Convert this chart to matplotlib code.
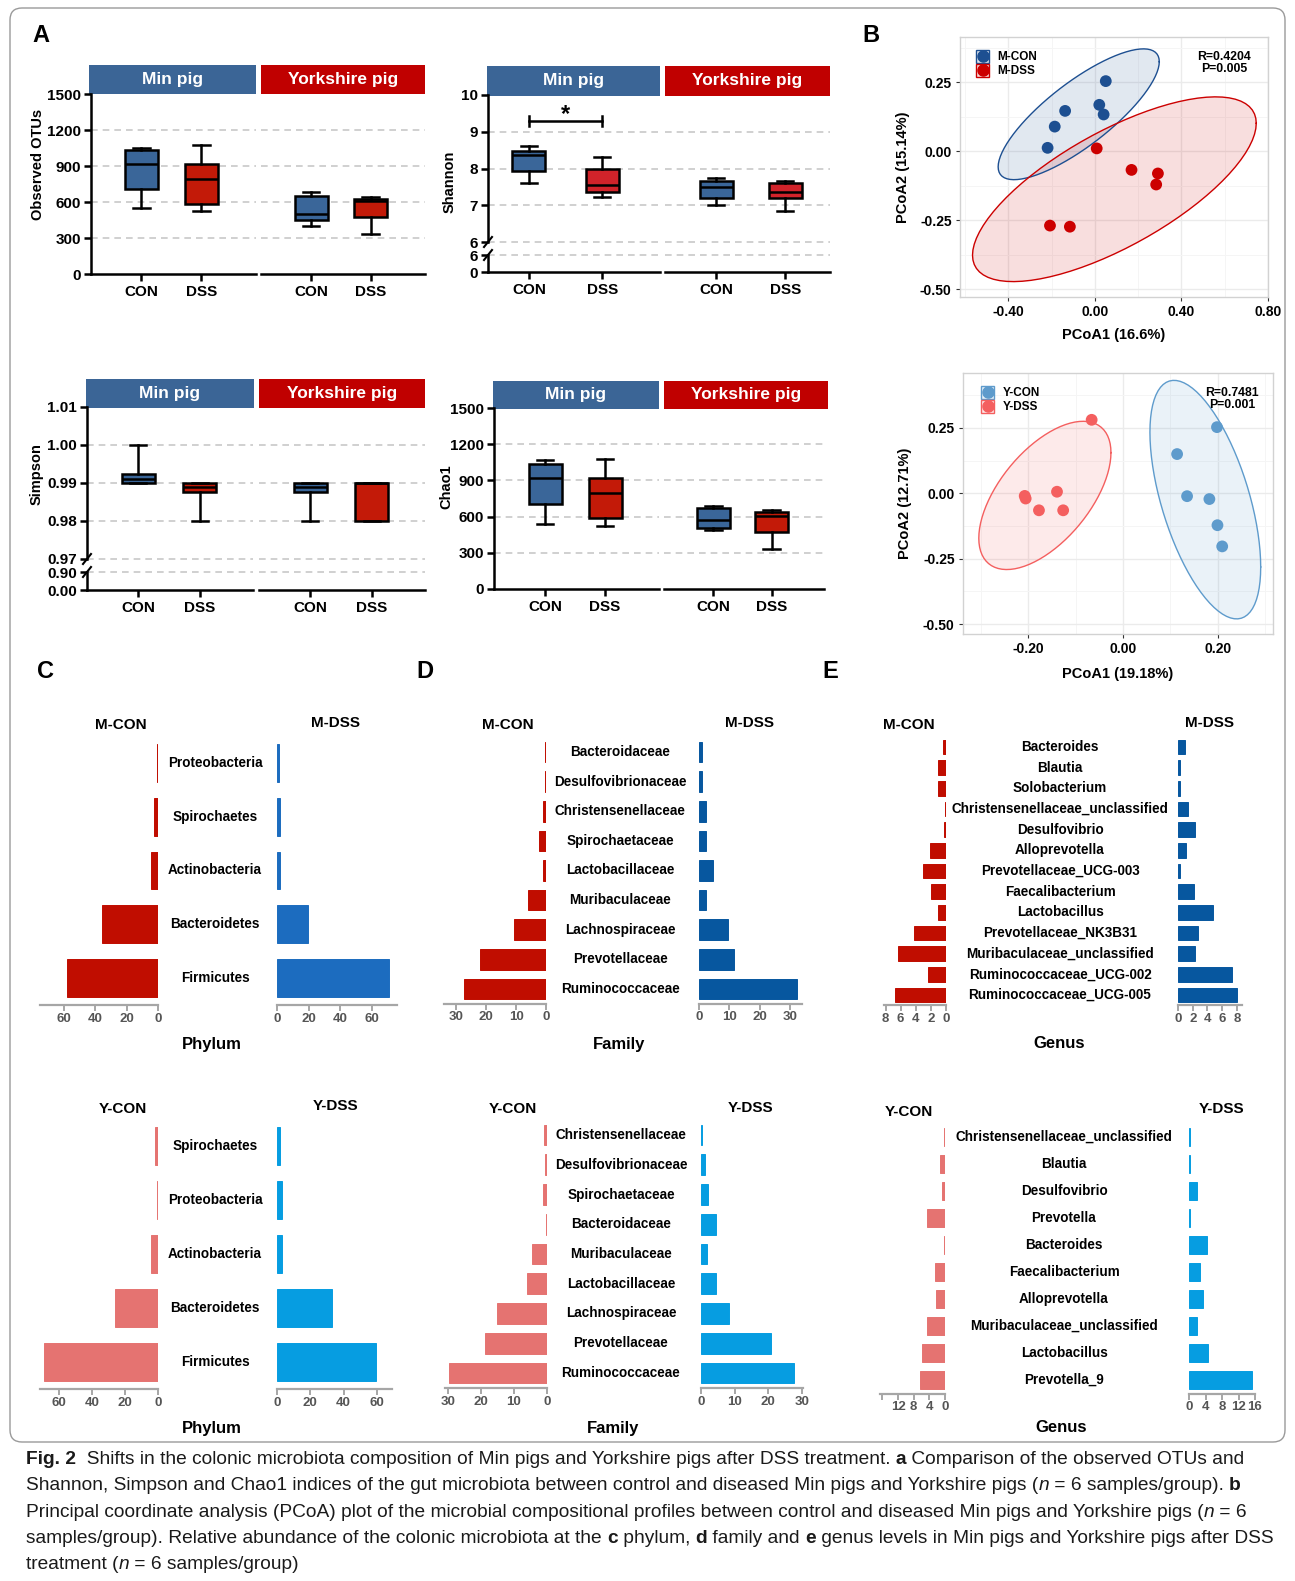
import numpy as np
import matplotlib
matplotlib.use("Agg")
import matplotlib.pyplot as plt
import matplotlib.transforms as mtransforms
from matplotlib.lines import Line2D
from matplotlib.patches import FancyBboxPatch, Polygon, Rectangle
from matplotlib.colors import to_rgba

W, H = 1295, 1581
DPI = 100
plt.rcParams['font.family'] = ['Liberation Sans', 'DejaVu Sans']
plt.rcParams['font.weight'] = 'bold'

# ---------------- alpha diversity (five-number summaries: low, Q1, median, Q3, high) ----------------
groups = ["CON", "DSS"]
facets = ["Min pig", "Yorkshire pig"]
otus_min = [[547, 708, 917, 1033, 1050], [525, 586, 794, 914, 1075]]
otus_york = [[397, 453, 500, 647, 683], [336, 472, 610, 622, 639]]
shannon_min = [[7.61, 7.93, 8.38, 8.47, 8.62], [7.23, 7.36, 7.55, 7.99, 8.32]]
shannon_york = [[7.00, 7.20, 7.49, 7.65, 7.75], [6.85, 7.20, 7.36, 7.61, 7.66]]
simpson_min = [[0.990, 0.990, 0.991, 0.9923, 1.000], [0.980, 0.9876, 0.989, 0.990, 0.990]]
simpson_york = [[0.980, 0.9876, 0.989, 0.990, 0.990], [0.980, 0.980, 0.990, 0.990, 0.990]]
chao1_min = [[540, 703, 919, 1035, 1065], [518, 592, 794, 922, 1079]]
chao1_york = [[493, 506, 570, 670, 686], [329, 470, 609, 634, 656]]
shannon_sig_y = 9.3

# ---------------- PCoA coordinates ----------------
m_con_pc1 = [0.050, 0.020, 0.040, -0.138, -0.186, -0.219]
m_con_pc2 = [0.254, 0.168, 0.133, 0.146, 0.089, 0.012]
m_dss_pc1 = [0.008, 0.169, 0.291, 0.283, -0.208, -0.116]
m_dss_pc2 = [0.010, -0.068, -0.081, -0.121, -0.270, -0.274]
y_con_pc1 = [0.198, 0.114, 0.135, 0.182, 0.199, 0.209]
y_con_pc2 = [0.253, 0.150, -0.011, -0.022, -0.122, -0.203]
y_dss_pc1 = [-0.066, -0.207, -0.205, -0.139, -0.177, -0.126]
y_dss_pc2 = [0.281, -0.010, -0.020, 0.006, -0.065, -0.065]
m_stats = "R=0.4204\nP=0.005"
y_stats = "R=0.7481\nP=0.001"

# ---------------- relative abundance (%) ----------------
phylum_m = ["Proteobacteria", "Spirochaetes", "Actinobacteria", "Bacteroidetes", "Firmicutes"]
phylum_m_con = [0.4, 2.7, 4.7, 35.3, 57.8]
phylum_m_dss = [1.0, 1.7, 1.7, 19.6, 70.9]
family_m = ["Bacteroidaceae", "Desulfovibrionaceae", "Christensenellaceae", "Spirochaetaceae",
            "Lactobacillaceae", "Muribaculaceae", "Lachnospiraceae", "Prevotellaceae", "Ruminococcaceae"]
family_m_con = [0.3, 0.2, 1.1, 2.4, 1.1, 6.1, 10.6, 21.9, 27.2]
family_m_dss = [1.0, 0.9, 2.3, 2.3, 4.6, 2.3, 9.6, 11.4, 32.3]
genus_m = ["Bacteroides", "Blautia", "Solobacterium", "Christensenellaceae_unclassified", "Desulfovibrio",
           "Alloprevotella", "Prevotellaceae_UCG-003", "Faecalibacterium", "Lactobacillus",
           "Prevotellaceae_NK3B31", "Muribaculaceae_unclassified", "Ruminococcaceae_UCG-002",
           "Ruminococcaceae_UCG-005"]
genus_m_con = [0.36, 1.1, 1.1, 0.1, 0.2, 2.1, 3.1, 2.0, 1.1, 4.2, 6.4, 2.4, 6.7]
genus_m_dss = [0.9, 0.3, 0.3, 1.4, 2.3, 1.1, 0.3, 2.2, 4.7, 2.7, 2.3, 7.4, 8.0]
phylum_y = ["Spirochaetes", "Proteobacteria", "Actinobacteria", "Bacteroidetes", "Firmicutes"]
phylum_y_con = [1.8, 0.7, 4.4, 26.3, 69.1]
phylum_y_dss = [1.7, 2.7, 2.7, 32.9, 59.2]
family_y = ["Christensenellaceae", "Desulfovibrionaceae", "Spirochaetaceae", "Bacteroidaceae",
            "Muribaculaceae", "Lactobacillaceae", "Lachnospiraceae", "Prevotellaceae", "Ruminococcaceae"]
family_y_con = [0.8, 0.5, 1.2, 0.3, 4.5, 6.1, 15.2, 18.9, 29.6]
family_y_dss = [0.4, 1.3, 2.1, 4.4, 1.7, 4.4, 8.4, 20.7, 27.5]
genus_y = ["Christensenellaceae_unclassified", "Blautia", "Desulfovibrio", "Prevotella", "Bacteroides",
           "Faecalibacterium", "Alloprevotella", "Muribaculaceae_unclassified", "Lactobacillus", "Prevotella_9"]
genus_y_con = [0.2, 1.4, 0.8, 4.6, 0.2, 2.5, 2.2, 4.6, 6.0, 6.3]
genus_y_dss = [0.3, 0.3, 2.0, 0.3, 4.3, 2.7, 3.3, 2.0, 4.6, 15.3]

# ---------------- caption ----------------
caption_lines = [
    [("Fig. 2", "bold"), ("  Shifts in the colonic microbiota composition of Min pigs and Yorkshire pigs after DSS treatment. ", "normal"),
     ("a", "bold"), (" Comparison of the observed OTUs and", "normal")],
    [("Shannon, Simpson and Chao1 indices of the gut microbiota between control and diseased Min pigs and Yorkshire pigs (", "normal"),
     ("n", "italic"), (" = 6 samples/group). ", "normal"), ("b", "bold")],
    [("Principal coordinate analysis (PCoA) plot of the microbial compositional profiles between control and diseased Min pigs and Yorkshire pigs (", "normal"),
     ("n", "italic"), (" = 6", "normal")],
    [("samples/group). Relative abundance of the colonic microbiota at the ", "normal"), ("c", "bold"), (" phylum, ", "normal"),
     ("d", "bold"), (" family and ", "normal"), ("e", "bold"), (" genus levels in Min pigs and Yorkshire pigs after DSS", "normal")],
    [("treatment (", "normal"), ("n", "italic"), (" = 6 samples/group)", "normal")],
]

# ---------------- styling ----------------
GRID = '#c8c8c8'
CON_BOX = '#3a6699'
DSS_BOX = '#c31a08'
HDR_COLORS = ['#3b6596', '#c00000']
AX_GRAY = '#a6a6a6'
TICK_GRAY = '#555555'

fig = plt.figure(figsize=(W / DPI, H / DPI), dpi=DPI)
fig.patch.set_facecolor('white')
IDT = mtransforms.IdentityTransform()


def px_axes(x0, y0, x1, y1):
    return fig.add_axes([x0 / W, 1 - y1 / H, (x1 - x0) / W, (y1 - y0) / H])


def ftext(x, y, s, **kw):
    kw.setdefault('ha', 'center')
    kw.setdefault('va', 'center')
    return fig.text(x / W, 1 - y / H, s, **kw)


# outer frame around the figure panels
fig.add_artist(FancyBboxPatch((10, H - 1442), 1275, 1434, boxstyle="round,pad=0,rounding_size=12",
                              transform=IDT, fill=False, ec='#9a9a9a', lw=1.0))

# panel letters
for letter, (lx, ly) in {"A": (41, 35), "B": (871, 35), "C": (45, 672), "D": (425, 672), "E": (830, 672)}.items():
    ftext(lx, ly, letter, fontsize=17, fontweight='bold')


# ================= A: alpha diversity box plots =================
BOX_PX = 33


def slash(x, y):
    fig.add_artist(Line2D([x - 4, x + 4], [H - y - 5, H - y + 5], transform=IDT, color='black', lw=1.5))


def alpha_panel(ylabel, ylabel_xy, facet_x, header_x, header_y, segments, summaries, xlims, dss_color,
                fmt, sig=None):
    for fi in range(2):
        x0, x1 = facet_x[fi]
        hx0, hx1 = header_x[fi]
        hax = px_axes(hx0, header_y[0], hx1, header_y[1])
        hax.set_facecolor(HDR_COLORS[fi])
        hax.set_xticks([])
        hax.set_yticks([])
        for s in hax.spines.values():
            s.set_visible(False)
        hax.text(0.5, 0.5, facets[fi], color='white', ha='center', va='center', fontsize=12.5,
                 fontweight='bold', transform=hax.transAxes)
        xlim = xlims[fi]
        width = BOX_PX * (xlim[1] - xlim[0]) / (x1 - x0)
        nseg = len(segments)
        for si, (sy0, sy1, ylim, ticks, grid) in enumerate(segments):
            ax = px_axes(x0, sy0, x1, sy1)
            ax.patch.set_alpha(0)
            ax.set_xlim(xlim)
            ax.set_ylim(ylim)
            for s in ['top', 'right']:
                ax.spines[s].set_visible(False)
            ax.spines['left'].set_visible(fi == 0)
            last = si == nseg - 1
            ax.spines['bottom'].set_visible(last)
            for s in ['left', 'bottom']:
                ax.spines[s].set_linewidth(1.8)
            for g in grid:
                ax.axhline(g, color=GRID, lw=1.2, ls=(0, (4, 3)), zorder=0, clip_on=False)
            if fi == 0:
                ax.set_yticks(ticks)
                ax.set_yticklabels([fmt.format(t) for t in ticks])
            else:
                ax.set_yticks([])
            if last:
                ax.set_xticks([1, 2])
                ax.set_xticklabels(groups)
            else:
                ax.set_xticks([])
            ax.tick_params(axis='both', direction='out', length=5, width=1.8, labelsize=11, pad=2.2)
            ax.tick_params(axis='x', pad=3)
            if si == 0:
                stats = [dict(whislo=s[0], q1=s[1], med=s[2], q3=s[3], whishi=s[4])
                         for s in summaries[fi]]
                art = ax.bxp(stats, positions=[1, 2], widths=width, capwidths=width * 0.5,
                             patch_artist=True, showfliers=False, manage_ticks=False,
                             boxprops=dict(lw=1.8, edgecolor='black'),
                             whiskerprops=dict(lw=1.8, color='black'),
                             capprops=dict(lw=1.8, color='black'),
                             medianprops=dict(lw=1.8, color='black'))
                for patch, c in zip(art['boxes'], [CON_BOX, dss_color]):
                    patch.set_facecolor(c)
                if sig is not None and fi == 0:
                    d = 0.13
                    ax.plot([1, 2], [sig, sig], color='black', lw=1.8)
                    ax.plot([1, 1], [sig - d, sig + d], color='black', lw=1.8)
                    ax.plot([2, 2], [sig - d, sig + d], color='black', lw=1.8)
                    ax.text(1.5, sig - 0.14, "*", ha='center', va='bottom', fontsize=17, fontweight='bold')
        if nseg > 1 and fi == 0:
            slash(x0, segments[0][1])
            slash(x0, segments[1][0])
    ftext(ylabel_xy[0], ylabel_xy[1], ylabel, rotation=90, fontsize=10.5, fontweight='bold')


count_ticks = [0, 300, 600, 900, 1200, 1500]
count_grid = [300, 600, 900, 1200]

alpha_panel("Observed OTUs", (38, 164), [(91, 256), (261, 425)], [(89, 256), (261, 425)], (65, 94),
            [(94, 274, (0, 1500), count_ticks, count_grid)],
            [otus_min, otus_york], [(0.16, 2.91), (0.16, 2.91)], DSS_BOX, "{:d}")

alpha_panel("Shannon", (450, 182), [(488, 660), (665, 830)], [(487, 660), (665, 830)], (66, 96),
            [(95, 242, (6, 10), [6, 7, 8, 9, 10], [6, 7, 8, 9]),
             (255, 272, (0, 6), [0, 6], [6])],
            [shannon_min, shannon_york], [(0.44, 2.79), (0.26, 2.65)], '#d1232a', "{:d}",
            sig=shannon_sig_y)

alpha_panel("Simpson", (37, 474), [(87, 253), (259, 425)], [(86, 254), (259, 425)], (379, 408),
            [(407, 559, (0.97, 1.01), [0.97, 0.98, 0.99, 1.00, 1.01], [0.97, 0.98, 0.99, 1.00]),
             (572, 590, (0, 0.90), [0.0, 0.90], [0.90])],
            [simpson_min, simpson_york], [(0.17, 2.86), (0.17, 2.86)], DSS_BOX, "{:.2f}")

alpha_panel("Chao1", (446, 487), [(494, 659), (664, 824)], [(493, 659), (664, 828)], (381, 409),
            [(408, 589, (0, 1500), count_ticks, count_grid)],
            [chao1_min, chao1_york], [(0.15, 2.9), (0.15, 2.9)], DSS_BOX, "{:d}")


# ================= B: PCoA =================
def f_quantile_df2(p, d2):
    # closed-form quantile of the F(2, d2) distribution
    return d2 / 2.0 * ((1 - p) ** (-2.0 / d2) - 1)


def cov_trob(xy, nu=5, maxit=25, tol=0.01):
    n, p = xy.shape
    loc = xy.mean(axis=0)
    w = np.ones(n)
    X = xy - loc
    for _ in range(maxit):
        w0 = w
        X = xy - loc
        S = (X * (w / w.sum())[:, None]).T @ X
        Q = np.einsum('ij,jk,ik->i', X, np.linalg.inv(S), X)
        w = (nu + p) / (nu + Q)
        loc = (w[:, None] * xy).sum(axis=0) / w.sum()
        if np.all(np.abs(w - w0) < tol):
            break
    cov = (X * w[:, None]).T @ X / n
    return loc, cov


def t_ellipse(x, y, level=0.95, segments=80):
    xy = np.column_stack([x, y])
    loc, cov = cov_trob(xy)
    radius = np.sqrt(2 * f_quantile_df2(level, len(x) - 1))
    ang = np.linspace(0, 2 * np.pi, segments + 1)
    circle = np.column_stack([np.cos(ang), np.sin(ang)])
    R = np.linalg.cholesky(cov).T
    return loc + radius * circle @ R


class GroupKey:
    """Legend key: tinted square with a coloured outline and a centred dot."""

    def __init__(self, color):
        self.color = color


class GroupKeyHandler:
    def legend_artist(self, legend, orig_handle, fontsize, handlebox):
        x0, y0 = -handlebox.xdescent, -handlebox.ydescent
        w, h = handlebox.width, handlebox.height
        side = min(w, h)
        cx, cy = x0 + w / 2, y0 + h / 2
        rect = Rectangle((cx - side / 2, cy - side / 2), side, side,
                         facecolor=to_rgba(orig_handle.color, 0.13), edgecolor=orig_handle.color, lw=1.0,
                         transform=handlebox.get_transform())
        dot = Line2D([cx], [cy], marker='o', ls='', color=orig_handle.color, markersize=8,
                     transform=handlebox.get_transform())
        handlebox.add_artist(rect)
        handlebox.add_artist(dot)
        return rect


def pcoa_panel(rect, xlim, ylim, xmajor, ymajor, series, stats_text, stats_xy, xlabel, xlabel_xy,
               ylabel, ylabel_xy, legend_xy):
    ax = px_axes(*rect)
    ax.set_xlim(xlim)
    ax.set_ylim(ylim)
    xstep = xmajor[1] - xmajor[0]
    ystep = ymajor[1] - ymajor[0]
    xminor = [v for v in np.arange(xmajor[0] - 3 * xstep / 2, xlim[1], xstep) if xlim[0] < v < xlim[1]]
    yminor = [v for v in np.arange(ymajor[0] - 3 * ystep / 2, ylim[1], ystep) if ylim[0] < v < ylim[1]]
    ax.set_xticks(xmajor)
    ax.set_xticklabels([f"{v:.2f}" for v in xmajor])
    ax.set_yticks(ymajor)
    ax.set_yticklabels([f"{v:.2f}" for v in ymajor])
    ax.set_xticks(xminor, minor=True)
    ax.set_yticks(yminor, minor=True)
    ax.grid(which='major', color='#ebebeb', lw=1.0)
    ax.grid(which='minor', color='#f5f5f5', lw=0.7)
    ax.set_axisbelow(True)
    ax.tick_params(which='minor', length=0)
    ax.tick_params(which='major', length=3, width=0.8, color='#333333', labelsize=10, pad=3)
    for s in ax.spines.values():
        s.set_color('#d2d2d2')
        s.set_linewidth(1.0)
    handles, labels = [], []
    for px_, py_, col, name in series:
        e = t_ellipse(px_, py_)
        ax.add_patch(Polygon(e, closed=True, facecolor=to_rgba(col, 0.13), edgecolor='none', zorder=1))
        ax.plot(e[:, 0], e[:, 1], color=col, lw=1.0, zorder=2)
        ax.scatter(px_, py_, s=72, color=col, edgecolor='none', zorder=3)
        handles.append(GroupKey(col))
        labels.append(name)
    fig.legend(handles, labels, loc='upper left', bbox_to_anchor=(legend_xy[0] / W, 1 - legend_xy[1] / H),
               frameon=False, borderpad=0, borderaxespad=0, handlelength=1.3, handleheight=1.3,
               handletextpad=0.6, labelspacing=0.05, prop=dict(size=8.5, weight='bold'),
               handler_map={GroupKey: GroupKeyHandler()})
    ftext(stats_xy[0], stats_xy[1], stats_text, fontsize=8.8, fontweight='bold', linespacing=1.0)
    ftext(xlabel_xy[0], xlabel_xy[1], xlabel, fontsize=10.5, fontweight='bold')
    ftext(ylabel_xy[0], ylabel_xy[1], ylabel, fontsize=10.5, fontweight='bold', rotation=90)


pcoa_panel((960, 37, 1268, 297), (-0.624, 0.80), (-0.529, 0.414), [-0.40, 0.0, 0.40, 0.80],
           [-0.50, -0.25, 0.0, 0.25],
           [(m_con_pc1, m_con_pc2, '#1d4f91', "M-CON"), (m_dss_pc1, m_dss_pc2, '#cc0000', "M-DSS")],
           m_stats, (1224, 63), "PCoA1 (16.6%)", (1114, 335), "PCoA2 (15.14%)", (903, 167), (975, 50))

pcoa_panel((963, 373, 1273, 634), (-0.337, 0.316), (-0.538, 0.46), [-0.20, 0.0, 0.20],
           [-0.50, -0.25, 0.0, 0.25],
           [(y_con_pc1, y_con_pc2, '#5e9bcc', "Y-CON"), (y_dss_pc1, y_dss_pc2, '#f45f5f', "Y-DSS")],
           y_stats, (1232, 399), "PCoA1 (19.18%)", (1118, 674), "PCoA2 (12.71%)", (905, 503), (980, 386))


# ================= C-E: paired horizontal bar charts =================
def bar_panel(cats, vals_l, vals_r, col_l, col_r, lx, rx, lmax, rmax, top_c, bot_c, lticks, rticks,
              label_cx, titles, xlabel, xlabel_xy, lticklabels=None, rticklabels=None):
    n = len(cats)
    spacing = (bot_c - top_c) / (n - 1)
    y0, y1 = top_c - spacing / 2, bot_c + spacing / 2
    pos = np.arange(n)[::-1]
    axes = []
    for (ax0, ax1), vals, col, xlim, ticks, tlabels in [
            (lx, vals_l, col_l, (lmax, 0), lticks, lticklabels),
            (rx, vals_r, col_r, (0, rmax), rticks, rticklabels)]:
        ax = px_axes(ax0, y0, ax1, y1)
        ax.patch.set_alpha(0)
        ax.barh(pos, vals, height=0.7, color=col, edgecolor=col, linewidth=0.7)
        ax.set_xlim(xlim)
        ax.set_ylim(-0.5, n - 0.5)
        for s in ['top', 'right', 'left']:
            ax.spines[s].set_visible(False)
        ax.spines['bottom'].set_color(AX_GRAY)
        ax.spines['bottom'].set_linewidth(1.6)
        ax.set_yticks([])
        ax.set_xticks(ticks)
        ax.set_xticklabels(tlabels if tlabels is not None else [str(t) for t in ticks])
        ax.tick_params(axis='x', direction='out', length=4, width=1.4, color=AX_GRAY,
                       labelcolor=TICK_GRAY, labelsize=9.5, pad=1.5)
        axes.append(ax)
    trans = mtransforms.blended_transform_factory(fig.transFigure, axes[0].transData)
    for p, c in zip(pos, cats):
        fig.text(label_cx / W, p, c, transform=trans, ha='center', va='center', fontsize=9.75,
                 fontweight='bold')
    for t, tx, ty in titles:
        ftext(tx, ty, t, fontsize=11, fontweight='bold')
    ftext(xlabel_xy[0], xlabel_xy[1], xlabel, fontsize=12, fontweight='bold')


M_RED = '#c00d00'
Y_SALMON = '#e57371'
Y_BLUE = '#069de1'

bar_panel(phylum_m, phylum_m_con, phylum_m_dss, M_RED, '#1c6cbf', (40, 158), (277, 397), 75, 76,
          763, 978, [0, 20, 40, 60], [0, 20, 40, 60], 215,
          [("M-CON", 121, 725), ("M-DSS", 336, 723)], "Phylum", (212, 1044))
bar_panel(family_m, family_m_con, family_m_dss, M_RED, '#07579f', (444, 546), (699, 802), 34, 34,
          752, 989, [0, 10, 20, 30], [0, 10, 20, 30], 620,
          [("M-CON", 508, 725), ("M-DSS", 750, 723)], "Family", (619, 1044))
bar_panel(genus_m, genus_m_con, genus_m_dss, M_RED, '#07579f', (884, 946), (1178, 1242), 8.2, 8.7,
          747, 995, [0, 2, 4, 6, 8], [0, 2, 4, 6, 8], 1060,
          [("M-CON", 909, 725), ("M-DSS", 1209, 723)], "Genus", (1059, 1044))
bar_panel(phylum_y, phylum_y_con, phylum_y_dss, Y_SALMON, Y_BLUE, (40, 158), (277, 392), 71.5, 69,
          1146, 1362, [0, 20, 40, 60], [0, 20, 40, 60], 215,
          [("Y-CON", 123, 1109), ("Y-DSS", 336, 1106)], "Phylum", (212, 1428))
bar_panel(family_y, family_y_con, family_y_dss, Y_SALMON, Y_BLUE, (445, 547), (701, 803), 30.9, 30.3,
          1135, 1373, [0, 10, 20, 30], [0, 10, 20, 30], 621,
          [("Y-CON", 513, 1109), ("Y-DSS", 751, 1108)], "Family", (613, 1428))
bar_panel(genus_y, genus_y_con, genus_y_dss, Y_SALMON, Y_BLUE, (880, 945), (1189, 1255), 16.6, 16,
          1137, 1380, [0, 4, 8, 12, 16], [0, 4, 8, 12, 16], 1064,
          [("Y-CON", 909, 1112), ("Y-DSS", 1222, 1109)], "Genus", (1061, 1428),
          lticklabels=["0", "4", "8", "12", ""])


# ================= caption =================
renderer = fig.canvas.get_renderer()


def run_props(style, size):
    return dict(fontsize=size, fontweight='bold' if style == 'bold' else 'normal',
                fontstyle='italic' if style == 'italic' else 'normal')


def measure(s, props):
    t = fig.text(0, 0, "|" + s + "|", **props)
    w1 = t.get_window_extent(renderer).width
    t.remove()
    t = fig.text(0, 0, "||", **props)
    w0 = t.get_window_extent(renderer).width
    t.remove()
    return w1 - w0


base_size = 12.5
widest = max(sum(measure(s, run_props(st, base_size)) for s, st in line) for line in caption_lines)
cap_size = base_size * 1253 / widest
for li, line in enumerate(caption_lines):
    x = 26
    yb = 1464 + li * 26.3
    for s, st in line:
        props = run_props(st, cap_size)
        fig.text(x / W, 1 - yb / H, s, ha='left', va='baseline', color='#1a1a1a', **props)
        x += measure(s, props)

fig.savefig("out.png", dpi=DPI)
